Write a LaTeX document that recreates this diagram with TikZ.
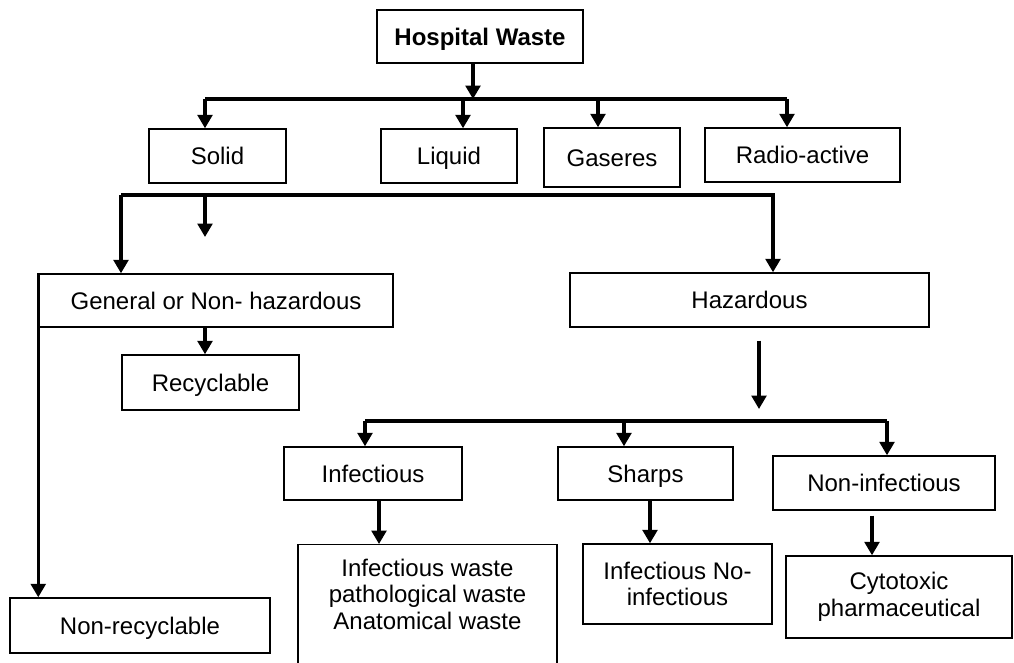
\documentclass[tikz,border=0pt]{standalone}
\usepackage{fontspec}
\setmainfont{Liberation Sans}
\usetikzlibrary{arrows.meta}

\begin{document}
\begin{tikzpicture}[x=0.75pt,y=-0.75pt,
    box/.style={draw, line width=1.1pt, inner sep=0pt, align=center,
        font=\fontsize{18}{20}\selectfont},
    one/.style={box, text height=12.9pt, text depth=0pt},
    arr/.style={line width=2.3pt, -{Triangle[width=11pt,length=10pt]}},
    bus/.style={line width=2.3pt}]
    \useasboundingbox (0,0) rectangle (1014,662);
    % boxes
    \node[one, minimum width=154.5pt, minimum height=39.75pt] (hw) at (480,36.5) {\bfseries Hospital Waste};
    \node[one, minimum width=102.75pt, minimum height=40.5pt] (solid) at (217.5,156) {Solid};
    \node[one, minimum width=102pt, minimum height=40.5pt] (liquid) at (449,156) {Liquid};
    \node[one, minimum width=102pt, minimum height=44.25pt] (gas) at (612,157.5) {Gaseres};
    \node[one, minimum width=146.25pt, minimum height=40.5pt] (radio) at (802.5,155) {Radio-active};
    \node[one, minimum width=265.5pt, minimum height=39.75pt] (general) at (216,300.5) {General or Non- hazardous};
    \node[one, minimum width=132.75pt, minimum height=41.25pt] (recyc) at (210.5,382.5) {Recyclable};
    \node[one, minimum width=195pt, minimum height=41.25pt] (nonrec) at (140,625.5) {Non-recyclable};
    \node[one, minimum width=269.25pt, minimum height=40.5pt] (haz) at (749.5,300) {Hazardous};
    \node[one, minimum width=133.5pt, minimum height=39.75pt] (inf) at (373,473.5) {Infectious};
    \node[one, minimum width=131.25pt, minimum height=39.75pt] (sharps) at (645.5,473.5) {Sharps};
    \node[one, minimum width=166.5pt, minimum height=40.5pt] (noninf) at (884,483) {Non-infectious};
    \node[box, minimum width=194.25pt, anchor=north, inner ysep=10.5pt, text depth=17pt] (infw) at (427.5,544)
        {Infectious waste\\pathological waste\\Anatomical waste};
    \node[box, minimum width=141.75pt, minimum height=60pt] (infno) at (677.5,584) {Infectious No-\\infectious};
    \node[box, minimum width=169.5pt, minimum height=61.5pt] (cyto) at (899,597) {Cytotoxic\\pharmaceutical};

    % first split
    \coordinate (j0) at (473,99);
    \coordinate (p1) at (205,99);
    \coordinate (p2) at (463,99);
    \coordinate (p3) at (598,99);
    \coordinate (p4) at (787,99);
    \draw[arr] (hw.south -| j0) -- (j0);
    \draw[bus] (p1) -- (p4);
    \foreach \p/\n in {p1/solid,p2/liquid,p3/gas,p4/radio}
        \draw[arr] (\p) -- (\p |- \n.north);

    % solid split
    \coordinate (q1) at (121,195);
    \coordinate (q2) at (773,195);
    \coordinate (q3) at (205,195);
    \coordinate (qd) at (205,237);
    \draw[arr] (q1) -- (q2) -- (q2 |- haz.north);
    \draw[arr] (q1) -- (q1 |- general.north);
    \draw[arr] (q3) -- (qd);
    \coordinate (r1) at (205,0);
    \draw[arr] (r1 |- general.south) -- (r1 |- recyc.north);
    \draw[arr] (general.north west) -- (general.north west |- nonrec.north);

    % hazardous split
    \coordinate (k0) at (759,421);
    \coordinate (k1) at (365,421);
    \coordinate (k2) at (624,421);
    \coordinate (k3) at (887,421);
    \draw[arr, shorten <=9.75pt, shorten >=9pt] (k0 |- haz.south) -- (k0);
    \draw[bus] (k1) -- (k3);
    \foreach \p/\n in {k1/inf,k2/sharps,k3/noninf}
        \draw[arr] (\p) -- (\p |- \n.north);
    \coordinate (m1) at (379,0);
    \coordinate (m2) at (650,0);
    \coordinate (m3) at (872,0);
    \draw[arr] (m1 |- inf.south) -- (m1 |- infw.north);
    \draw[arr] (m2 |- sharps.south) -- (m2 |- infno.north);
    \draw[arr, shorten <=3.75pt] (m3 |- noninf.south) -- (m3 |- cyto.north);
\end{tikzpicture}
\end{document}
